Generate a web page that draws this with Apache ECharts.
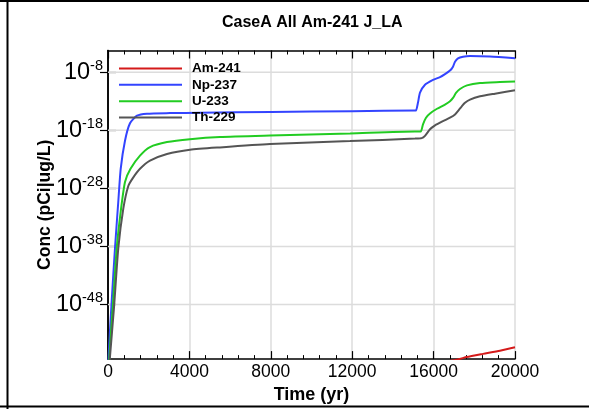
<!DOCTYPE html>
<html><head><meta charset="utf-8">
<script src="https://cdn.jsdelivr.net/npm/echarts@6/dist/echarts.min.js"></script>
<style>html,body{margin:0;padding:0;background:#fff}#c{width:589px;height:409px}</style>
</head><body><div id="c"></div>
<script>
// values are log10(concentration, pCi/L) vs time (yr)
const seriesNames = ['Am-241', 'Np-237', 'U-233', 'Th-229'];
const amT = [16000, 17200, 17626, 18428, 19263, 20000];
const amV = [-58.2, -57.45, -57.05, -56.5, -55.95, -55.37];
const npT = [0, 25, 182, 344, 506, 624, 835, 1081, 1425, 1916, 3047, 4521, 8000, 12000, 15086, 15135, 15233, 15332, 15577, 15971, 16314, 16560, 16806, 16953, 17052, 17199, 17445, 17789, 18771, 20000];
const npV = [-62, -57.2, -47.35, -38.27, -30.27, -24.64, -19.8, -16.8, -15.5, -15.15, -15.05, -14.98, -14.85, -14.72, -14.62, -14.62, -13.23, -11.53, -10.16, -9.31, -8.85, -8.34, -7.73, -7.05, -6.19, -5.61, -5.34, -5.22, -5.3, -5.61];
const uT = [0, 64, 231, 428, 624, 835, 1106, 1572, 2064, 2899, 4029, 5504, 7961, 11892, 15086, 15366, 15479, 15627, 15823, 16167, 16560, 16806, 16953, 17101, 17297, 17641, 18280, 19263, 20000];
const uV = [-62, -57.1, -48.6, -38.3, -32.0, -26.9, -24.64, -22.38, -20.9, -20.04, -19.53, -19.15, -18.9, -18.56, -18.22, -18.22, -16.98, -15.84, -15.1, -14.3, -13.57, -13.0, -12.43, -11.58, -10.9, -10.28, -9.87, -9.70, -9.60];
const thT = [0, 98, 295, 506, 752, 998, 1228, 1572, 2064, 2899, 4029, 5504, 7961, 11892, 15086, 15415, 15577, 15823, 16069, 16462, 16806, 17052, 17297, 17543, 17789, 18280, 19017, 20000];
const thV = [-62, -57.0, -48.5, -38.3, -31.5, -27.6, -26.2, -24.64, -23.23, -22.09, -21.36, -20.95, -20.38, -19.87, -19.44, -19.36, -18.97, -17.83, -17.15, -16.42, -15.84, -15.27, -14.25, -13.28, -12.72, -12.16, -11.70, -11.13];
const yTicks = [-48, -38, -28, -18, -8];
const xTickLabels = ['0', '4000', '8000', '12000', '16000', '20000'];
const xRange = [0, 20000];

const colors = ['#d41a1a', '#3344ff', '#22cc22', '#555555'];
const pairs = (t, v) => t.map((x, i) => [x, v[i]]);
const allData = [pairs(amT, amV), pairs(npT, npV), pairs(uT, uV), pairs(thT, thV)];

const FONT = 'Liberation Sans, Arial, sans-serif';
const chart = echarts.init(document.getElementById('c'), null, {renderer: 'canvas'});

const tickCommon = {show: true, inside: true, length: 8, lineStyle: {color: '#000', width: 1.2}};
// horizontal grid lines at the decade ticks (drawn through the axes)
const series = yTicks.map(v => ({
  type: 'line', data: xRange.map(x => [x, v]), symbol: 'none', silent: true, z: 1,
  lineStyle: {color: '#dcdcdc', width: 1.5}, tooltip: {show: false}
}));
seriesNames.forEach((n, i) => series.push({
  name: n, type: 'line', data: allData[i], symbol: 'none', showSymbol: false,
  smooth: 0.2, clip: true, z: 3,
  lineStyle: {color: colors[i], width: 2}, itemStyle: {color: colors[i]}
}));

chart.setOption({
  animation: false,
  title: {text: 'CaseA All Am-241 J_LA', left: 217, top: 10,
    textStyle: {fontFamily: FONT, fontSize: 16, fontWeight: 'bold', color: '#000'}},
  graphic: [
    {type: 'line', shape: {x1: 7.5, y1: 0, x2: 7.5, y2: 409}, style: {stroke: '#000', lineWidth: 2}},
    {type: 'line', shape: {x1: 0, y1: 1, x2: 589, y2: 1}, style: {stroke: '#000', lineWidth: 2}},
    {type: 'line', shape: {x1: 0, y1: 406.5, x2: 589, y2: 406.5}, style: {stroke: '#000', lineWidth: 2}}
  ],
  legend: {
    orient: 'vertical', left: 119, top: 61.4, padding: 0, itemGap: 2.4,
    itemWidth: 63, itemHeight: 2, icon: 'rect', data: seriesNames,
    textStyle: {fontFamily: FONT, fontSize: 13.5, fontWeight: 'bold', color: '#000', padding: [0, 0, 0, 5]}
  },
  grid: {left: 108, right: 74, top: 50.5, bottom: 48, containLabel: false},
  xAxis: [{
    type: 'value', min: 0, max: 20000, interval: 4000, position: 'bottom',
    name: 'Time (yr)', nameLocation: 'middle', nameGap: 22,
    nameTextStyle: {fontFamily: FONT, fontSize: 18, fontWeight: 'bold', color: '#000'},
    axisLine: {show: true, lineStyle: {color: '#000', width: 1.5}},
    axisTick: tickCommon,
    minorTick: {show: true, splitNumber: 5, length: 4, lineStyle: {color: '#000', width: 1}},
    axisLabel: {fontFamily: FONT, fontSize: 17.5, color: '#000', margin: 4,
      formatter: v => xTickLabels[Math.round(v / 4000)]},
    splitLine: {show: true, lineStyle: {color: '#dcdcdc', width: 1.5}}
  }, {
    type: 'value', min: 0, max: 20000, interval: 4000, position: 'top',
    axisLine: {show: true, lineStyle: {color: '#000', width: 1.5}},
    axisTick: tickCommon,
    minorTick: {show: true, splitNumber: 5, length: 4, lineStyle: {color: '#000', width: 1}},
    axisLabel: {show: false}, splitLine: {show: false}
  }],
  yAxis: [{
    type: 'value', min: -57.4, max: -4.27, position: 'left',
    name: 'Conc (pCi|ug/L)', nameLocation: 'middle', nameGap: 54, nameRotate: 90,
    nameMoveOverlap: false,
    nameTextStyle: {fontFamily: FONT, fontSize: 17.5, fontWeight: 'bold', color: '#000'},
    axisLine: {show: true, lineStyle: {color: '#000', width: 1.5}},
    axisTick: Object.assign({}, tickCommon, {customValues: yTicks}),
    axisLabel: {customValues: yTicks, margin: 5,
      formatter: v => '{b|10}{s|' + v + '}',
      rich: {
        b: {fontFamily: FONT, fontSize: 23.5, color: '#000', lineHeight: 28},
        s: {fontFamily: FONT, fontSize: 14.5, color: '#000', lineHeight: 15, verticalAlign: 'top'}
      }},
    splitLine: {show: false}
  }, {
    type: 'value', min: -57.4, max: -4.27, position: 'right',
    axisLine: {show: true, lineStyle: {color: '#000', width: 1.5}},
    axisTick: Object.assign({}, tickCommon, {customValues: yTicks}),
    axisLabel: {show: false}, splitLine: {show: false}
  }],
  series: series
});
</script></body></html>
